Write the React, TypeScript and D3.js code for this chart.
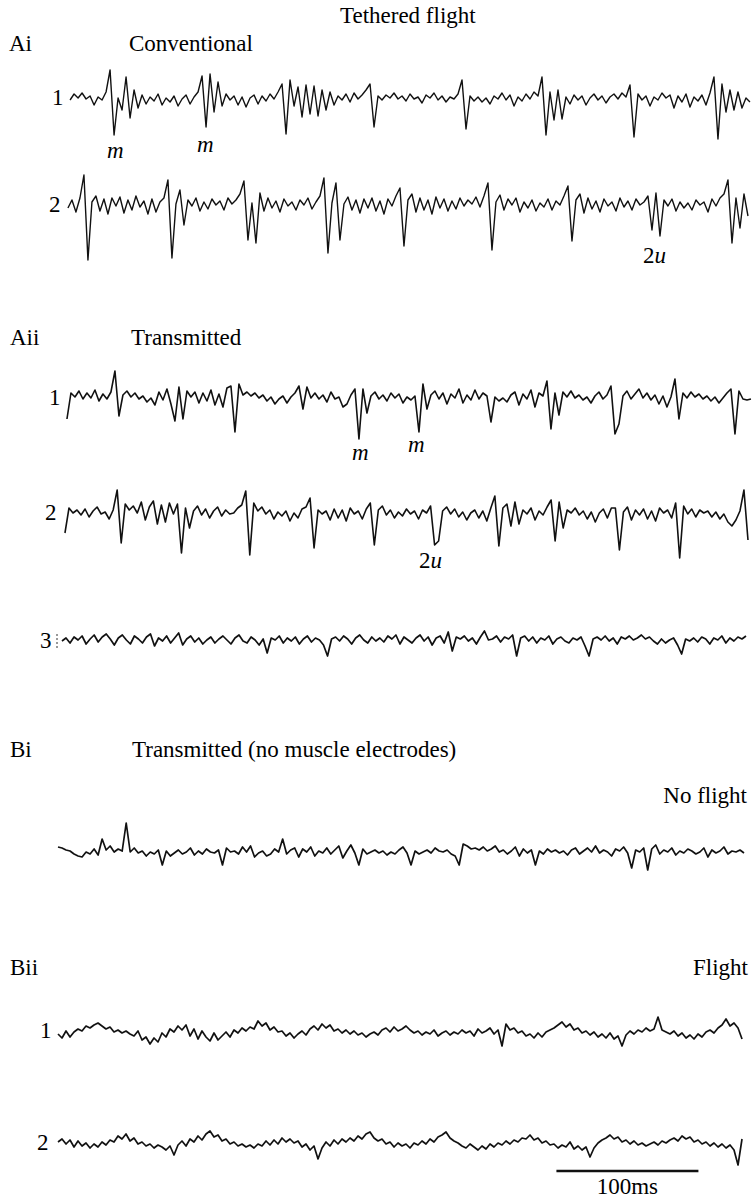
import React, { useEffect, useRef } from "react";
import * as d3 from "d3";

const aiConv1 = [
  2, 8, 4, 9, 3, 6, -3, 5, 2, 10,
  32, -33, 4, -8, 25, -16, 12, -6, 7, -2,
  5, 1, 8, -3, 4, 0, 6, -4, 3, 7,
  -2, 5, 10, 26, -25, 28, -10, 20, -4, 8,
  2, 6, -3, 5, -5, 4, 7, -2, 6, 1,
  8, 3, 10, 18, -32, 22, -4, 15, -15, 17,
  -12, 16, -14, 12, -8, 10, -3, 6, 2, 8,
  0, 9, 3, 7, 12, 18, -25, 6, 2, 7,
  4, 9, 3, 6, 1, 8, 3, 5, -1, 7,
  4, 9, 2, 6, 0, 5, 3, 8, 22, -27,
  6, 1, 5, 0, 4, -2, 6, 3, 9, 2,
  7, -4, 5, 1, 8, 3, 10, 6, 25, -33,
  10, -18, 12, -17, 5, -2, 7, 2, 6, -3,
  4, 8, 2, 6, -1, 5, 8, 3, 9, 5,
  17, -35, 8, 2, 6, -4, 5, 2, 9, 4,
  7, -6, 6, 0, 8, -5, 5, 1, 7, -3,
  9, 25, -37, 18, -10, 12, -8, 10, -6, 4,
  0,
];

const aiConv2 = [
  0, 8, -4, 10, 33, -52, 6, 12, -3, 9,
  -6, 10, 2, 11, -5, 8, -2, 12, 1, 7,
  -6, 9, -4, 6, 10, 28, -50, 4, 18, -17,
  8, 2, 10, -3, 6, -1, 9, 3, 7, -2,
  10, 4, 8, 14, 27, -32, 5, -35, 15, -3,
  10, 0, 7, -4, 9, 2, 6, -2, 8, 3,
  10, -1, 6, 12, 30, -45, 5, 25, -32, 4,
  11, -2, 8, -5, 9, 0, 10, -3, 7, -6,
  9, 2, 12, 20, -38, 8, 14, -4, 10, -2,
  8, -6, 11, 0, 9, -3, 7, -1, 10, 2,
  8, 4, 11, 1, 12, 25, -42, 6, 13, -2,
  9, 3, 10, -4, 6, 0, 8, -3, 5, 1,
  9, -2, 7, 3, 12, 22, -33, 8, 14, -5,
  10, -1, 7, -4, 9, 2, 6, -3, 10, 1,
  7, -2, 9, 3, 6, 12, -22, 15, -28, 8,
  2, 9, -3, 6, 0, 5, -2, 8, 3, 6,
  -4, 9, 2, 10, 14, 28, -35, 10, -20, 14,
  -8,
];

const aiiTx1 = [
  -18, 8, 4, 10, 2, 8, 3, 11, 0, 7,
  2, 9, 30, -15, 6, 10, 4, 8, 2, 5,
  -1, 3, -4, 9, 1, 12, -3, -20, 14, -18,
  10, 4, 9, -2, 8, 0, 11, -4, 7, -6,
  13, 15, -31, 17, 6, 9, 5, 8, 3, 6,
  0, 4, -3, 2, 5, -2, 4, 8, 15, -8,
  14, 3, 8, 2, 6, -1, 9, 2, 4, -6,
  -3, 6, 12, -38, 12, -12, 5, 9, 2, 6,
  0, 8, 3, 7, -2, 4, 1, 5, -31, 17,
  -8, 6, 10, 2, 8, -3, 7, 3, 12, -2,
  6, 1, 11, 2, 8, 5, -21, 4, 0, 3,
  -1, 6, 9, -4, 7, 2, 11, -6, 8, 5,
  20, -28, 8, -14, 9, 4, 10, 3, 6, 1,
  4, -2, 5, 9, 2, 6, 15, -33, -23, 5,
  10, 2, 7, 12, 3, 8, 1, 6, -3, 5,
  -6, 4, 22, -18, 8, 3, 9, 4, 7, 2,
  5, 0, 4, -2, 3, 8, 12, -33, 10, 2,
  1, 2,
];

const aiiTx2 = [
  -17, 8, 3, 6, 1, 7, -1, 5, 9, 2,
  4, -3, 6, 26, -27, 12, 6, 10, 3, 14,
  -4, 9, 15, -8, 11, -6, 13, 2, 12, -37,
  8, -12, 5, 10, 1, 7, -2, 5, 9, 0,
  6, 2, 3, 8, 11, 25, -39, 13, 5, 9,
  2, 6, -3, 4, 0, 5, -5, 3, -2, 7,
  9, 18, -32, 6, 2, 5, -4, 7, -2, 6,
  -5, 8, 2, 5, -3, 7, 13, -29, 6, 10,
  1, 6, -2, 4, 0, 7, 2, 5, -3, 6,
  3, 10, -29, -25, 5, 9, 2, 7, -1, 4,
  -4, 3, 6, -2, 5, -5, 8, 20, -30, 8,
  12, -10, 14, -8, 6, 2, 8, -4, 5, 1,
  9, 16, -25, 14, -12, 6, 3, 8, 1, 5,
  -3, 4, -6, 3, 7, -2, 8, 8, -34, 4,
  9, -4, 6, 1, 7, -3, 5, -5, 8, 3,
  6, -2, 13, -42, 10, 2, 7, -1, 6, 3,
  5, -1, 4, -3, 2, -6, -10, -4, 5, 26,
  -24,
];

const aiiTx3 = [
  0, 3, -2, 4, 1, 5, -3, 2, 6, -1,
  4, 7, 2, -4, 3, 6, 1, -3, 5, 2,
  -2, 4, 7, -5, 3, 0, 5, -2, 3, 8,
  -4, 2, 5, -1, 3, -3, 1, 4, -2, 2,
  5, 1, -3, 3, 6, 0, -2, 4, 1, -4,
  2, -12, 3, 1, 5, -2, 3, 0, 4, -3,
  2, 5, -1, 3, 1, -4, -15, 2, 4, 0,
  5, 2, -3, 3, 6, 1, -2, 4, 0, 3,
  -1, 5, 2, 6, -3, 4, 1, -2, 3, 6,
  0, 4, -4, 3, 5, -2, 9, -10, 4, 2,
  5, 0, 3, -3, 4, 10, 1, 2, 5, -1,
  4, 2, 6, -15, 3, 5, 0, 4, -2, 3,
  1, 5, -3, 2, 4, 0, -2, 3, 1, 4,
  -5, -15, 2, 4, 1, 5, 0, 3, -3, 4,
  2, 5, 1, 3, 6, 2, 4, 0, -3, 2,
  -2, 1, 3, -4, -13, 2, 0, 3, -1, 4,
  2, -3, 3, 1, 5, -2, 3, 0, 4, 2,
  5,
];

const biNoFlight = [
  7, 6, 4, 3, 0, -2, -3, 2, 0, 5,
  -1, 15, 4, 8, 2, 5, 3, 31, 2, 6,
  1, 3, -2, 2, 0, 4, -11, 3, -2, 1,
  4, 0, 2, 6, -1, 3, 0, 5, 2, 1,
  4, -11, 6, 2, 3, 0, 7, 2, 8, -3,
  1, 3, -2, 0, 5, 2, 15, 0, 4, 6,
  -3, 5, 2, 7, -2, 3, 1, 6, 0, 4,
  8, -4, 3, 9, 1, -11, 5, 0, 2, 4,
  1, 3, -1, 2, 0, 4, 7, 1, -11, 3,
  0, 2, 4, 1, 6, 3, 2, 4, 0, -2,
  -11, 10, 8, 5, 6, 4, 7, 3, 5, 8,
  2, 4, 0, 3, 7, -2, 5, 1, 4, -11,
  3, 0, 5, 2, 4, 1, 3, -1, 4, 6,
  0, 3, 6, 2, 8, 1, 4, 2, -2, 5,
  3, 7, 1, -14, 4, 2, 6, -16, 5, 9,
  0, 4, 2, 6, -1, 3, 1, 5, 3, 0,
  2, 6, -3, 4, 1, 3, 7, 0, 3, 2,
  4, 1,
];

const biiFlight1 = [
  0, -4, 3, -3, 2, 5, 3, 8, 6, 9,
  11, 8, 5, 7, 2, 4, 1, 3, 0, -2,
  3, -6, -3, -10, -4, -8, 1, -3, 5, 2,
  8, 4, 9, -2, 5, -5, 3, -3, -7, 1,
  -6, -2, 2, -3, 4, 1, 6, 3, 7, 5,
  13, 8, 11, 4, 7, 2, 3, -2, 1, -4,
  0, 3, -1, 5, 8, 4, 10, 6, 9, 3,
  5, 1, 4, 0, 3, -1, 1, -3, 0, 2,
  -1, 4, 6, 2, 7, 3, 5, 8, 4, 1,
  3, -1, 2, 0, 4, -2, 1, 3, -1, 2,
  0, 4, 1, 3, -2, 5, 1, 3, 6, 0,
  4, -12, 10, 4, 6, 1, 3, -2, 0, -4,
  1, -3, 2, 4, 6, 9, 12, 7, 10, 4,
  6, 1, 3, -1, 2, -3, 0, -4, 1, -5,
  -2, -12, -1, 3, 0, 4, 2, 6, 3, 5,
  17, 4, 2, 0, 3, -2, 1, -4, -1, -5,
  0, -3, 2, 4, 1, 6, 9, 15, 8, 11,
  6, -5,
];

const biiFlight2 = [
  2, 5, 0, 4, -3, 3, -2, 1, -4, 0,
  -3, 2, -1, 4, 2, 8, 5, 10, 3, 6,
  0, 2, -2, 0, -4, -1, -3, -6, -2, -11,
  -1, 3, -2, 5, 2, 8, 4, 10, 13, 7,
  9, 3, 5, 0, 2, -2, 0, -3, -1, -4,
  0, -2, 3, -1, 4, 0, 6, 2, 5, 1,
  3, -3, 0, -6, -2, -15, -4, 2, -2, 4,
  0, 5, 2, 6, 3, 8, 5, 10, 12, 6,
  3, 5, 0, 2, -3, 1, -2, 0, -4, 1,
  -1, 3, 0, 5, 2, 7, 9, 12, 6, 3,
  1, -2, -4, 0, -3, -6, -2, -5, 0, -3,
  1, -1, 3, 0, 4, 2, 6, 5, 9, 4,
  6, 1, 3, -1, 0, -4, -1, -3, 2, -5,
  -2, -6, -3, -13, -4, 1, 4, 6, 9, 5,
  7, 2, 4, 0, 3, -1, 1, -2, 0, 2,
  -1, 3, 1, 4, 6, 3, 8, 5, 7, 2,
  4, 0, 2, -2, 1, -3, 0, -4, -1, -6,
  -21, 5,
];

// sweep windows in ms on the common time base
const sweepStart = [8.5, 7, 6.3, 4.9, 2.8, 0, 0, 0];
const sweepEnd = [487.3, 485.9, 488, 485.9, 484.5, 483.1, 481.7, 481.7];

const scaleBarMs = [351, 451];
const scaleBarLabel = "100ms";

export default function App() {
  const svgRef = useRef(null);

  useEffect(() => {
    document.body.style.margin = "0";

    const W = 752;
    const H = 1200;
    const svg = d3.select(svgRef.current).attr("width", W).attr("height", H);
    svg.selectAll("*").remove();

    const font = "Liberation Serif";
    const fs = 23;

    // one time base for every sweep: 100 ms = 142 px
    const x = d3.scaleLinear().domain([0, 100]).range([58, 200]);

    var rows = [
      { values: aiConv1, base: 102, label: "1", lx: 52, ly: 105, sw: 1.4 },
      { values: aiConv2, base: 208, label: "2", lx: 49, ly: 212, sw: 1.4 },
      { values: aiiTx1, base: 401, label: "1", lx: 49, ly: 405, sw: 1.6 },
      { values: aiiTx2, base: 516, label: "2", lx: 45, ly: 520, sw: 1.6 },
      { values: aiiTx3, base: 641, label: "3", lx: 40, ly: 648, sw: 1.7 },
      { values: biNoFlight, base: 854, label: "", lx: 0, ly: 0, sw: 1.7 },
      { values: biiFlight1, base: 1034, label: "1", lx: 40, ly: 1038, sw: 1.7 },
      { values: biiFlight2, base: 1144, label: "2", lx: 37, ly: 1150, sw: 1.7 },
    ];

    const g = svg.append("g")
      .attr("font-family", font)
      .attr("font-size", fs);

    rows.forEach((r, k) => {
      const n = r.values.length;
      const t = d3.scaleLinear().domain([0, n - 1]).range([sweepStart[k], sweepEnd[k]]);
      const y = d3.scaleLinear().domain([-50, 50]).range([r.base + 50, r.base - 50]);
      const line = d3.line<number>()
        .x((d, i) => x(t(i)))
        .y(d => y(d));

      g.append("path")
        .datum(r.values)
        .attr("d", line)
        .attr("fill", "none")
        .attr("stroke", "#111")
        .attr("stroke-width", r.sw)
        .attr("stroke-linejoin", "round");

      if (r.label) {
        g.append("text")
          .attr("x", r.lx)
          .attr("y", r.ly)
          .text(r.label);
      }
    });

    // little dotted tick ahead of sweep 3
    g.append("line")
      .attr("x1", 57).attr("x2", 57)
      .attr("y1", 634).attr("y2", 648)
      .attr("stroke", "#333")
      .attr("stroke-width", 1)
      .attr("stroke-dasharray", "2,2");

    /////// headings ///////
    const texts = [
      { t: "Tethered flight", x: 340, y: 23, anchor: "start" },
      { t: "Ai", x: 9, y: 51, anchor: "start" },
      { t: "Conventional", x: 129, y: 51, anchor: "start" },
      { t: "Aii", x: 10, y: 345, anchor: "start" },
      { t: "Transmitted", x: 131, y: 345, anchor: "start" },
      { t: "Bi", x: 10, y: 757, anchor: "start" },
      { t: "Transmitted (no muscle electrodes)", x: 132, y: 757, anchor: "start" },
      { t: "No flight", x: 747, y: 803, anchor: "end" },
      { t: "Bii", x: 10, y: 975, anchor: "start" },
      { t: "Flight", x: 748, y: 975, anchor: "end" },
    ];

    g.selectAll(".head")
      .data(texts)
      .enter()
      .append("text")
      .attr("class", "head")
      .attr("x", d => d.x)
      .attr("y", d => d.y)
      .attr("text-anchor", d => d.anchor)
      .text(d => d.t);

    // unit markers
    const marks = [
      { t: "m", x: 107, y: 158 },
      { t: "m", x: 197, y: 152 },
      { t: "m", x: 352, y: 460 },
      { t: "m", x: 408, y: 452 },
    ];
    g.selectAll(".mk")
      .data(marks)
      .enter()
      .append("text")
      .attr("class", "mk")
      .attr("x", d => d.x)
      .attr("y", d => d.y)
      .attr("font-style", "italic")
      .text(d => d.t);

    const twoU = [
      { x: 643, y: 263 },
      { x: 419, y: 568 },
    ];
    twoU.forEach(p => {
      const tx = g.append("text")
        .attr("x", p.x)
        .attr("y", p.y);
      tx.append("tspan").text("2");
      tx.append("tspan").attr("font-style", "italic").text("u");
    });

    /////// scale bar ///////
    g.append("line")
      .attr("x1", x(scaleBarMs[0]))
      .attr("x2", x(scaleBarMs[1]))
      .attr("y1", 1171)
      .attr("y2", 1171)
      .attr("stroke", "#111")
      .attr("stroke-width", 2.5);

    g.append("text")
      .attr("x", (x(scaleBarMs[0]) + x(scaleBarMs[1])) / 2)
      .attr("y", 1194)
      .attr("text-anchor", "middle")
      .text(scaleBarLabel);
  }, []);

  return <svg ref={svgRef} style={{ display: "block", background: "#fff" }} />;
}
